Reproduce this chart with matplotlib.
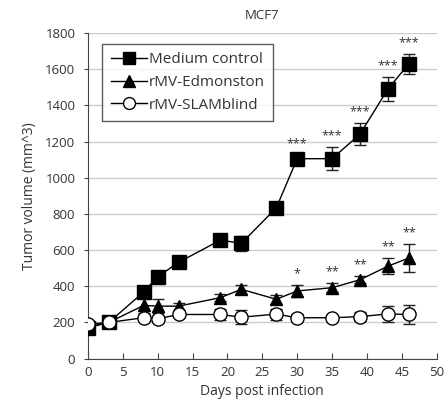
import matplotlib
matplotlib.use("Agg")
import matplotlib.pyplot as plt

days = [0, 3, 8, 10, 13, 19, 22, 27, 30, 35, 39, 43, 46]
medium = [170, 200, 368, 452, 532, 655, 637, 833, 1105, 1105, 1241, 1490, 1630]
medium_err = [15, 15, 25, 30, 20, 15, 40, 25, 20, 65, 60, 65, 55]
edm = [175, 200, 294, 290, 290, 337, 383, 328, 374, 392, 436, 511, 556]
edm_err = [15, 15, 40, 40, 20, 20, 25, 25, 35, 25, 20, 45, 80]
slam = [190, 200, 226, 220, 244, 244, 229, 246, 226, 226, 232, 247, 244]
slam_err = [10, 10, 15, 15, 15, 30, 40, 30, 20, 10, 25, 45, 50]
stars_days = [30, 35, 39, 43, 46]
medium_stars = ["***", "***", "***", "***", "***"]
edm_stars = ["*", "**", "**", "**", "**"]

plt.rcParams['font.family'] = ['Open Sans', 'DejaVu Sans']
fig = plt.figure(figsize=(4.48, 4.17), dpi=100)
ax = fig.add_axes([0.196, 0.140, 0.779, 0.781])

lc = '#222222'
series = [
    (medium, medium_err, 's', 'black', 9.5, 'Medium control', 4),
    (edm, edm_err, '^', 'black', 9, 'rMV-Edmonston', 4),
    (slam, slam_err, 'o', 'white', 9.5, 'rMV-SLAMblind', 5),
]
for vals, errs, mk, mfc, ms, lab, z in series:
    ax.errorbar(days, vals, yerr=errs, fmt='none', ecolor=lc, capsize=4, elinewidth=1, zorder=z - 1)
    ax.plot(days, vals, '-', marker=mk, color='black', mfc=mfc, mec='black',
            markersize=ms, linewidth=1, label=lab, zorder=z)

for d, s in zip(stars_days, medium_stars):
    i = days.index(d)
    ax.text(d, medium[i] + medium_err[i] + 25, s, ha='center', va='bottom', fontsize=9, color='#333333')
for d, s in zip(stars_days, edm_stars):
    i = days.index(d)
    ax.text(d, edm[i] + edm_err[i] + 25, s, ha='center', va='bottom', fontsize=9, color='#333333')

ax.set_xlim(0, 50)
ax.set_ylim(0, 1800)
ax.set_xticks(range(0, 51, 5))
ax.set_yticks(range(0, 1801, 200))
ax.yaxis.grid(True, color='#cccccc', linewidth=1)
ax.set_axisbelow(True)
for s in ['top', 'right']:
    ax.spines[s].set_visible(False)
ax.spines['left'].set_color('#444444')
ax.spines['bottom'].set_color('#444444')
ax.tick_params(axis='x', direction='in', length=4, labelsize=9.5, colors='#444444', labelcolor='#333333', pad=5)
ax.tick_params(axis='y', direction='out', length=3, labelsize=9.5, colors='#444444', labelcolor='#333333', pad=6)
ax.set_xlabel('Days post infection', fontsize=10, color='#333333', labelpad=4)
ax.set_ylabel('Tumor volume (mm^3)', fontsize=10, color='#333333', labelpad=6)
ax.set_title('MCF7', fontsize=9.5, color='#333333', pad=10)

leg = ax.legend(loc='upper left', bbox_to_anchor=(0.02, 0.99), frameon=True, fancybox=False,
                edgecolor='#333333', fontsize=11, handlelength=2.4, handletextpad=0.1,
                borderpad=0.55, labelspacing=0.5, markerscale=0.9)
leg.get_frame().set_linewidth(1)
for t in leg.get_texts():
    t.set_color('#333333')

fig.savefig('out.png', dpi=100)
